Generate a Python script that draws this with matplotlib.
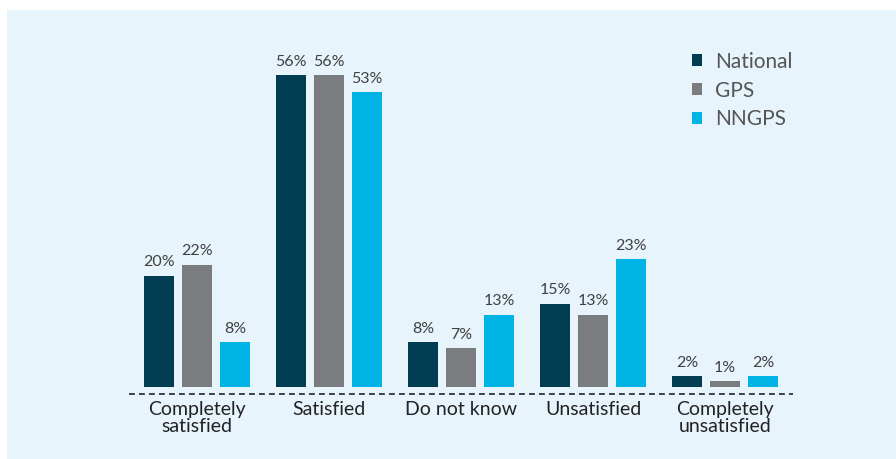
import matplotlib.pyplot as plt
import numpy as np
from matplotlib.patches import Rectangle
from matplotlib.lines import Line2D

categories = ["Completely\nsatisfied", "Satisfied", "Do not know",
              "Unsatisfied", "Completely\nunsatisfied"]
series = ["National", "GPS", "NNGPS"]
national = [20, 56, 8, 15, 2]
gps = [22, 56, 7, 13, 1]
nngps = [8, 53, 13, 23, 2]

PANEL = "#E7F4FC"
COLORS = ["#003D52", "#7B7C80", "#00B4E5"]
LABEL_INK = "#404040"
CAT_INK = "#222222"

plt.rcParams["font.family"] = ["Lato", "DejaVu Sans"]

fig = plt.figure(figsize=(8.96, 4.59), dpi=100)
fig.patch.set_facecolor("white")
fig.add_artist(Rectangle((7 / 896, 0), 1, 1 - 10 / 459, transform=fig.transFigure,
                         facecolor=PANEL, edgecolor="none", zorder=0))

ax = fig.add_axes([129 / 896, 72 / 459, 664 / 896, 334 / 459])
ax.patch.set_alpha(0)
ax.set_xlim(-0.515, 4.515)
ax.set_ylim(0, 60)
for s in ax.spines.values():
    s.set_visible(False)
ax.set_yticks([])
ax.tick_params(axis="x", length=0, pad=10)

x = np.arange(len(categories))
width = 30 / 132
step = 38 / 132
for i, (name, vals) in enumerate(zip(series, [national, gps, nngps])):
    pos = x + (i - 1) * step
    ax.bar(pos, vals, width=width, color=COLORS[i], label=name, zorder=2)
    for p, v in zip(pos, vals):
        ax.annotate(f"{v}%", (p, v), xytext=(0, 4.5), textcoords="offset points",
                    ha="center", va="bottom", fontsize=11.5, color=LABEL_INK)

ax.set_xticks(x)
ax.set_xticklabels(categories, fontsize=14, color=CAT_INK, linespacing=1.0)
for t in ax.get_xticklabels():
    t.set_verticalalignment("top")

# dashed baseline just under the bars
ax.add_line(Line2D([0, 1], [-7 / 334, -7 / 334], transform=ax.transAxes,
                   color="#222222", lw=1.2, ls=(0, (3.5, 2.5)), clip_on=False))

leg = fig.legend(loc="upper left", bbox_to_anchor=(673 / 896, 1 - 33 / 459),
                 frameon=False, fontsize=15, handlelength=0.5, handleheight=0.5,
                 handletextpad=0.6, labelspacing=0.42)
for t in leg.get_texts():
    t.set_color("#555555")

fig.savefig("out.png", dpi=100, facecolor="white")
